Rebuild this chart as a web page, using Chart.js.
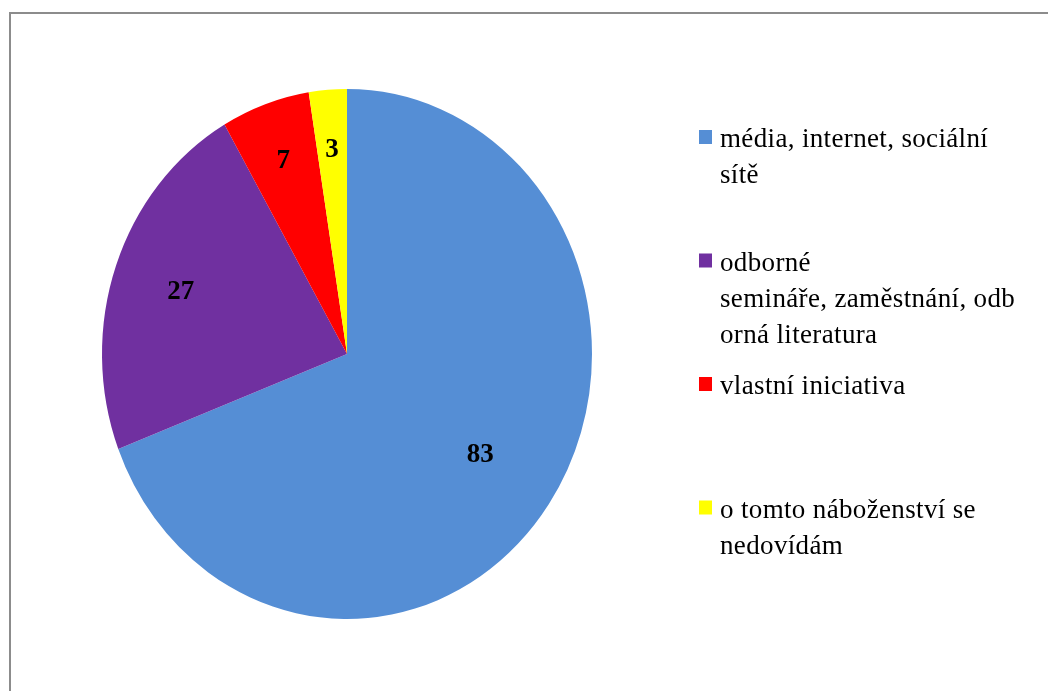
<!DOCTYPE html>
<html>
<head>
<meta charset="utf-8">
<script src="https://cdn.jsdelivr.net/npm/chart.js@4.4.0/dist/chart.umd.min.js"></script>
<style>
  html, body { margin: 0; padding: 0; background: #fff; }
  body { width: 1048px; height: 691px; position: relative; overflow: hidden; }
  #frame { position: absolute; left: 9px; top: 12px; width: 1100px; height: 800px; border: 2px solid #8c8c8c; box-sizing: border-box; }
  #pieChart { position: absolute; left: 0; top: 0; }
</style>
</head>
<body>
<div id="frame"></div>
<canvas id="pieChart" width="1048" height="691"></canvas>
<script>
// categories (lines as wrapped in the original legend)
const categories = [
    ['média, internet, sociální', 'sítě'],
    ['odborné', 'semináře, zaměstnání, odb', 'orná literatura'],
    ['vlastní iniciativa'],
    ['o tomto náboženství se', 'nedovídám']
];
const counts = [83, 27, 7, 3];
const sliceColors = ['#558ed5', '#7030a0', '#ff0000', '#ffff00'];

const STRETCH = 265 / 245; // original picture is squashed horizontally
const SERIF = '"Liberation Serif", "Times New Roman", serif';

const ellipsePlugin = {
    id: 'ellipse',
    beforeDatasetsDraw(chart) {
        const ctx = chart.ctx;
        const arc = chart.getDatasetMeta(0).data[0];
        ctx.save();
        ctx.translate(arc.x, arc.y);
        ctx.scale(1, STRETCH);
        ctx.translate(-arc.x, -arc.y);
    },
    afterDatasetsDraw(chart) {
        const ctx = chart.ctx;
        ctx.restore();
        // value labels
        const meta = chart.getDatasetMeta(0);
        ctx.save();
        ctx.font = 'bold 27px ' + SERIF;
        ctx.fillStyle = '#000';
        ctx.textAlign = 'center';
        ctx.textBaseline = 'middle';
        meta.data.forEach((arc, i) => {
            const mid = (arc.startAngle + arc.endAngle) / 2;
            const span = arc.endAngle - arc.startAngle;
            const k = span > 1.5 ? 0.66 : (span > 1 ? 0.72 : 0.78);
            const r = arc.outerRadius * k;
            ctx.fillText(String(counts[i]),
                arc.x + Math.cos(mid) * r,
                arc.y + Math.sin(mid) * r * STRETCH + 2);
        });
        ctx.restore();
    },
    afterDraw(chart) {
        // legend on the right, entries spaced evenly
        const ctx = chart.ctx;
        const x0 = 699, y0 = 147, step = 123.5, lineH = 36;
        ctx.save();
        ctx.font = '27px ' + SERIF;
        ctx.letterSpacing = '0.35px';
        ctx.textBaseline = 'alphabetic';
        ctx.textAlign = 'left';
        categories.forEach((lines, i) => {
            const base = y0 + i * step;
            ctx.fillStyle = sliceColors[i];
            ctx.fillRect(x0, base - 17, 13, 14);
            ctx.fillStyle = '#000';
            lines.forEach((t, j) => ctx.fillText(t, x0 + 21, base + j * lineH));
        });
        ctx.restore();
    }
};

new Chart(document.getElementById('pieChart'), {
    type: 'pie',
    data: {
        labels: categories.map(l => l.join(' ')),
        datasets: [{
            data: counts,
            backgroundColor: sliceColors,
            borderWidth: 0
        }]
    },
    options: {
        responsive: false,
        animation: false,
        layout: { padding: { left: 102, right: 456, top: 89, bottom: 72 } },
        plugins: {
            legend: { display: false },
            tooltip: { enabled: false }
        }
    },
    plugins: [ellipsePlugin]
});
</script>
</body>
</html>
